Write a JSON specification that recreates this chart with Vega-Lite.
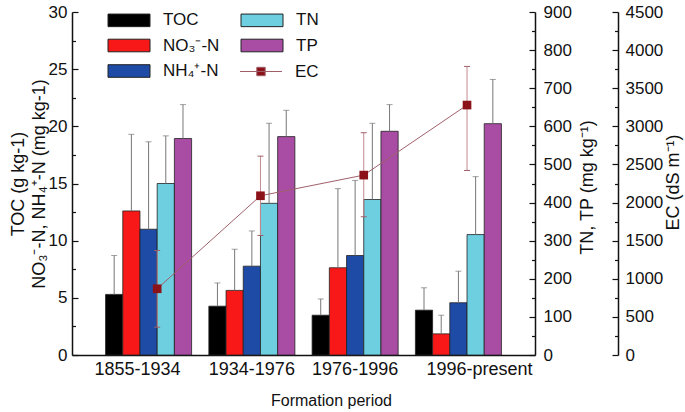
{
  "$schema": "https://vega.github.io/schema/vega-lite/v6.json",
  "autosize": {"type": "none"},
  "width": 463,
  "height": 343,
  "padding": {"left": 72, "top": 12, "right": 150, "bottom": 57},
  "background": "white",
  "config": {
    "view": {"stroke": null},
    "font": "Liberation Sans",
    "axis": {"labelFont": "Liberation Sans", "titleFont": "Liberation Sans", "labelColor": "#111", "titleColor": "#111", "domainColor": "#111", "tickColor": "#111", "grid": false, "titleFontWeight": "normal"}
  },
  "datasets": {
    "bars": [
      {"period": "1855-1934", "series": "TOC", "value": 5.3, "upper": 8.7, "side": "L"},
      {"period": "1855-1934", "series": "NO₃⁻-N", "value": 12.6, "upper": 19.3, "side": "L"},
      {"period": "1855-1934", "series": "NH₄⁺-N", "value": 11.0, "upper": 18.65, "side": "L"},
      {"period": "1855-1934", "series": "TN", "value": 450, "upper": 575, "side": "R"},
      {"period": "1855-1934", "series": "TP", "value": 568, "upper": 657, "side": "R"},
      {"period": "1934-1976", "series": "TOC", "value": 4.27, "upper": 6.3, "side": "L"},
      {"period": "1934-1976", "series": "NO₃⁻-N", "value": 5.65, "upper": 9.25, "side": "L"},
      {"period": "1934-1976", "series": "NH₄⁺-N", "value": 7.77, "upper": 10.85, "side": "L"},
      {"period": "1934-1976", "series": "TN", "value": 398, "upper": 608, "side": "R"},
      {"period": "1934-1976", "series": "TP", "value": 573, "upper": 642, "side": "R"},
      {"period": "1976-1996", "series": "TOC", "value": 3.48, "upper": 4.9, "side": "L"},
      {"period": "1976-1996", "series": "NO₃⁻-N", "value": 7.63, "upper": 14.55, "side": "L"},
      {"period": "1976-1996", "series": "NH₄⁺-N", "value": 8.7, "upper": 15.27, "side": "L"},
      {"period": "1976-1996", "series": "TN", "value": 408, "upper": 608, "side": "R"},
      {"period": "1976-1996", "series": "TP", "value": 587, "upper": 657, "side": "R"},
      {"period": "1996-present", "series": "TOC", "value": 3.92, "upper": 5.88, "side": "L"},
      {"period": "1996-present", "series": "NO₃⁻-N", "value": 1.85, "upper": 3.48, "side": "L"},
      {"period": "1996-present", "series": "NH₄⁺-N", "value": 4.57, "upper": 7.33, "side": "L"},
      {"period": "1996-present", "series": "TN", "value": 316, "upper": 468, "side": "R"},
      {"period": "1996-present", "series": "TP", "value": 607, "upper": 723, "side": "R"}
    ],
    "ec": [
      {"period": "1855-1934", "series": "EC", "ec": 869, "lower": 365, "upper": 1371},
      {"period": "1934-1976", "series": "EC", "ec": 2089, "lower": 1568, "upper": 2609},
      {"period": "1976-1996", "series": "EC", "ec": 2360, "lower": 1814, "upper": 2916},
      {"period": "1996-present", "series": "EC", "ec": 3279, "lower": 2421, "upper": 3786}
    ]
  },
  "encoding": {
    "x": {
      "field": "period", "type": "nominal", "sort": null,
      "scale": {"paddingInner": 0.167, "paddingOuter": 0.325},
      "axis": {"title": "Formation period", "titleFontSize": 16, "titlePadding": 14, "titleX": 259, "labelAngle": 0, "labelFontSize": 18, "labelPadding": 5, "ticks": false, "domainWidth": 1.5,
        "labelOffset": {"condition": [{"test": "datum.value === '1855-1934'", "value": -11}, {"test": "datum.value === '1996-present'", "value": 21}], "value": 0}}
    }
  },
  "layer": [
    {
      "data": {"name": "bars"},
      "transform": [{"filter": "datum.side === 'L'"}],
      "mark": {"type": "bar", "stroke": "#222", "strokeWidth": 0.8},
      "encoding": {
        "xOffset": {"field": "series", "type": "nominal", "scale": {"domain": ["TOC", "NO₃⁻-N", "NH₄⁺-N", "TN", "TP"], "paddingInner": 0, "paddingOuter": 0}},
        "y": {"field": "value", "type": "quantitative", "scale": {"domain": [0, 30], "nice": false},
          "axis": {"orient": "left", "values": [0, 5, 10, 15, 20, 25, 30], "tickSize": -6, "labelPadding": 11, "labelFontSize": 17, "domainWidth": 1.5, "tickWidth": 1.2,
            "title": ["TOC (g kg-1)", "NO₃⁻-N, NH₄⁺-N (mg kg-1)"], "titleFontSize": 18, "titleLineHeight": 21, "titlePadding": 0}},
        "color": {"field": "series", "type": "nominal",
          "scale": {"domain": ["TOC", "TN", "NO₃⁻-N", "TP", "NH₄⁺-N"], "range": ["#000000", "#6DCFE0", "#F81818", "#A94DA4", "#1E4BA6"]},
          "legend": {"title": null, "orient": "none", "legendX": 30, "legendY": -3, "columns": 2, "direction": "horizontal", "labelFontSize": 17, "labelFont": "Liberation Sans", "labelColor": "#111", "symbolSize": 441, "rowPadding": 5.5, "columnPadding": 15, "labelOffset": 23, "padding": 0, "symbolOffset": 16,
            "symbolType": "M-2,-0.6H2V0.6H-2Z", "symbolStrokeColor": "#333", "symbolStrokeWidth": 1, "symbolOpacity": 1}}
      }
    },
    {
      "data": {"name": "bars"},
      "transform": [{"filter": "datum.side === 'L'"}],
      "mark": {"type": "rule", "color": "#777", "strokeWidth": 1},
      "encoding": {
        "xOffset": {"field": "series", "type": "nominal", "scale": {"domain": ["TOC", "NO₃⁻-N", "NH₄⁺-N", "TN", "TP"]}},
        "y": {"field": "value", "type": "quantitative", "scale": {"domain": [0, 30], "nice": false},
          "axis": {"orient": "left", "values": [2.5, 7.5, 12.5, 17.5, 22.5, 27.5], "tickSize": -3.5, "labels": false, "domain": false, "title": null, "tickWidth": 1.2}},
        "y2": {"field": "upper"}
      }
    },
    {
      "data": {"name": "bars"},
      "transform": [{"filter": "datum.side === 'L'"}],
      "mark": {"type": "tick", "orient": "horizontal", "color": "#777", "thickness": 1, "size": 6},
      "encoding": {
        "xOffset": {"field": "series", "type": "nominal", "scale": {"domain": ["TOC", "NO₃⁻-N", "NH₄⁺-N", "TN", "TP"]}},
        "y": {"field": "upper", "type": "quantitative", "scale": {"domain": [0, 30], "nice": false}, "axis": null}
      }
    },
    {
      "data": {"name": "bars"},
      "transform": [{"filter": "datum.side === 'R'"}],
      "mark": {"type": "bar", "stroke": "#222", "strokeWidth": 0.8},
      "encoding": {
        "xOffset": {"field": "series", "type": "nominal", "scale": {"domain": ["TOC", "NO₃⁻-N", "NH₄⁺-N", "TN", "TP"]}},
        "y": {"field": "value", "type": "quantitative", "scale": {"domain": [0, 900], "nice": false},
          "axis": {"orient": "right", "values": [0, 100, 200, 300, 400, 500, 600, 700, 800, 900], "format": "d", "tickSize": -6, "labelPadding": 14, "labelFontSize": 17, "domainWidth": 1.5, "tickWidth": 1.2,
            "title": "TN, TP (mg kg⁻¹)", "titleFontSize": 18, "titleAngle": 270, "titleAlign": "center", "titleBaseline": "middle", "titleX": 52, "titleY": 175}},
        "color": {"field": "series", "type": "nominal"}
      }
    },
    {
      "data": {"name": "bars"},
      "transform": [{"filter": "datum.side === 'R'"}],
      "mark": {"type": "rule", "color": "#777", "strokeWidth": 1},
      "encoding": {
        "xOffset": {"field": "series", "type": "nominal", "scale": {"domain": ["TOC", "NO₃⁻-N", "NH₄⁺-N", "TN", "TP"]}},
        "y": {"field": "value", "type": "quantitative", "scale": {"domain": [0, 900], "nice": false},
          "axis": {"orient": "right", "values": [50, 150, 250, 350, 450, 550, 650, 750, 850], "tickSize": -3.5, "labels": false, "domain": false, "title": null, "tickWidth": 1.2}},
        "y2": {"field": "upper"}
      }
    },
    {
      "data": {"name": "bars"},
      "transform": [{"filter": "datum.side === 'R'"}],
      "mark": {"type": "tick", "orient": "horizontal", "color": "#777", "thickness": 1, "size": 6},
      "encoding": {
        "xOffset": {"field": "series", "type": "nominal", "scale": {"domain": ["TOC", "NO₃⁻-N", "NH₄⁺-N", "TN", "TP"]}},
        "y": {"field": "upper", "type": "quantitative", "scale": {"domain": [0, 900], "nice": false}, "axis": null}
      }
    },
    {
      "data": {"name": "ec"},
      "mark": {"type": "rule", "color": "#C48A90", "strokeWidth": 1},
      "encoding": {
        "x": {"field": "period", "type": "nominal", "sort": null, "bandPosition": 0.6},
        "y": {"field": "lower", "type": "quantitative", "scale": {"domain": [0, 4500], "nice": false},
          "axis": {"orient": "right", "offset": 83, "values": [250, 750, 1250, 1750, 2250, 2750, 3250, 3750, 4250], "tickSize": -3.5, "labels": false, "domain": false, "title": null, "tickWidth": 1.2}},
        "y2": {"field": "upper"}
      }
    },
    {
      "data": {"name": "ec"},
      "mark": {"type": "point", "shape": "M-1,0H1", "filled": false, "size": 36, "stroke": "#A0606A", "strokeWidth": 1, "opacity": 1},
      "encoding": {
        "x": {"field": "period", "type": "nominal", "sort": null, "bandPosition": 0.6},
        "y": {"field": "upper", "type": "quantitative", "scale": {"domain": [0, 4500], "nice": false}, "axis": null}
      }
    },
    {
      "data": {"name": "ec"},
      "mark": {"type": "point", "shape": "M-1,0H1", "filled": false, "size": 36, "stroke": "#A0606A", "strokeWidth": 1, "opacity": 1},
      "encoding": {
        "x": {"field": "period", "type": "nominal", "sort": null, "bandPosition": 0.6},
        "y": {"field": "lower", "type": "quantitative", "scale": {"domain": [0, 4500], "nice": false}, "axis": null}
      }
    },
    {
      "data": {"name": "ec"},
      "mark": {"type": "line", "color": "#A0606A", "strokeWidth": 1},
      "encoding": {
        "x": {"field": "period", "type": "nominal", "sort": null, "bandPosition": 0.6},
        "y": {"field": "ec", "type": "quantitative", "scale": {"domain": [0, 4500], "nice": false},
          "axis": {"orient": "right", "offset": 83, "values": [0, 500, 1000, 1500, 2000, 2500, 3000, 3500, 4000, 4500], "format": "d", "tickSize": -6, "labelPadding": 13, "labelFontSize": 17, "domainWidth": 1.5, "tickWidth": 1.2,
            "title": "EC (dS m⁻¹)", "titleFontSize": 18, "titleAngle": 270, "titleAlign": "center", "titleBaseline": "middle", "titleX": 55, "titleY": 170}}
      }
    },
    {
      "data": {"name": "ec"},
      "mark": {"type": "point", "shape": "square", "filled": true, "size": 75, "opacity": 1},
      "encoding": {
        "x": {"field": "period", "type": "nominal", "sort": null, "bandPosition": 0.6},
        "y": {"field": "ec", "type": "quantitative", "scale": {"domain": [0, 4500], "nice": false}, "axis": null},
        "fill": {"field": "series", "type": "nominal", "scale": {"domain": ["EC"], "range": ["#8B1218"]},
          "legend": {"title": null, "orient": "none", "legendX": 162, "legendY": 48.5, "labelFontSize": 17, "labelFont": "Liberation Sans", "labelColor": "#111", "symbolSize": 441, "labelOffset": 23, "padding": 0, "symbolOffset": 16,
            "symbolType": "M-2,0H2M-0.4,-0.4H0.4V0.4H-0.4Z", "symbolStrokeColor": "#A0606A", "symbolStrokeWidth": 1, "symbolOpacity": 1}}
      }
    }
  ],
  "resolve": {"scale": {"y": "independent"}, "axis": {"y": "independent"}}
}
